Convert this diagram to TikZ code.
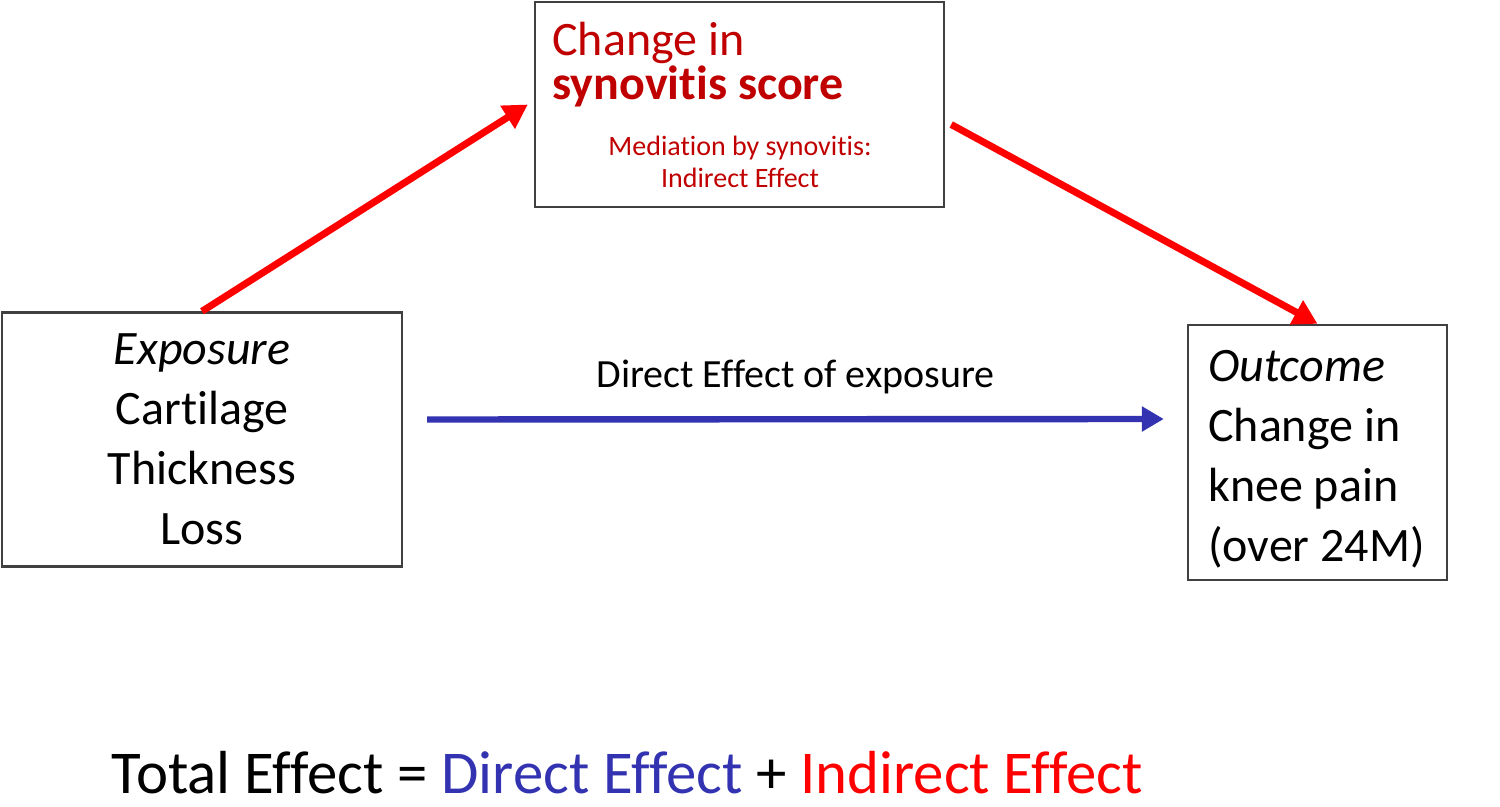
\documentclass[tikz,border=0pt]{standalone}
\usepackage{fontspec}
\setmainfont{Carlito}[Ligatures=NoCommon]
\usepackage{xcolor}
\usetikzlibrary{arrows.meta,positioning,calc}

\definecolor{arrowred}{RGB}{255,0,0}
\definecolor{synred}{RGB}{192,0,0}
\definecolor{directblue}{RGB}{51,51,178}

\tikzset{
  box/.style={draw=black!75, line width=1.2pt, inner sep=0pt},
  bigtext/.style={font=\fontsize{24}{30}\selectfont},
  smalltext/.style={font=\fontsize{14}{16.5}\selectfont},
  redarrow/.style={-{Triangle[length=12pt,width=13pt]}, line width=3.5pt, arrowred},
  bluearrow/.style={-{Triangle[length=11pt,width=12pt]}, line width=3.2pt, directblue},
}

\begin{document}
\begin{tikzpicture}[x=0.5pt,y=-0.5pt]
\useasboundingbox (0,0) rectangle (1500,807);

% Boxes for exposure, mediator and outcome
\node[box, bigtext, align=center, minimum width=200pt, minimum height=127pt] (exposure) at (202,439.5)
  {\textit{Exposure}\\Cartilage\\Thickness\\Loss};
\node[box, minimum width=204.5pt, minimum height=102.5pt] (synovitis) at (739.5,104.5) {};
\node[box, minimum width=129.5pt, minimum height=127.5pt] (outcome) at (1317.5,452.5) {};

% Text inside the mediator and outcome boxes
\node[bigtext, synred, anchor=base west, inner sep=0pt] (synhead) at (552,56) {Change in};
\node[bigtext, synred, anchor=base west, inner sep=0pt] (synscore) at (552,100) {\textbf{synovitis score}};
\node[smalltext, synred, anchor=base, inner sep=0pt] (synmed) at (740,156) {Mediation by synovitis:};
\node[smalltext, synred, anchor=base, inner sep=0pt] (synind) at (740,188) {Indirect Effect};
\node[bigtext, align=left, inner sep=0pt] (outcometext) at (1316.5,459.5)
  {\textit{Outcome}\\Change in\\knee pain\\(over 24M)};

% Indirect path
\draw[redarrow] (exposure.north) -- ([xshift=-3pt]synovitis.west);
\draw[redarrow] ([shift={(3pt,-10pt)}]synovitis.east) -- (outcome.north);

% Direct path
\draw[bluearrow] ([shift={(12pt,10pt)}]exposure.east) -- ([shift={(-11.5pt,16.75pt)}]outcome.west)
  node[midway, anchor=base, yshift=16pt, font=\fontsize{20}{24}\selectfont, black] (directlabel) {Direct Effect of exposure};

% Total effect
\node[anchor=base, inner sep=0pt, font=\fontsize{30.4}{36}\selectfont] (total) at (627.5,793)
  {Total Effect = \textcolor{directblue}{Direct Effect} + \textcolor{arrowred}{Indirect Effect}};

\end{tikzpicture}
\end{document}
